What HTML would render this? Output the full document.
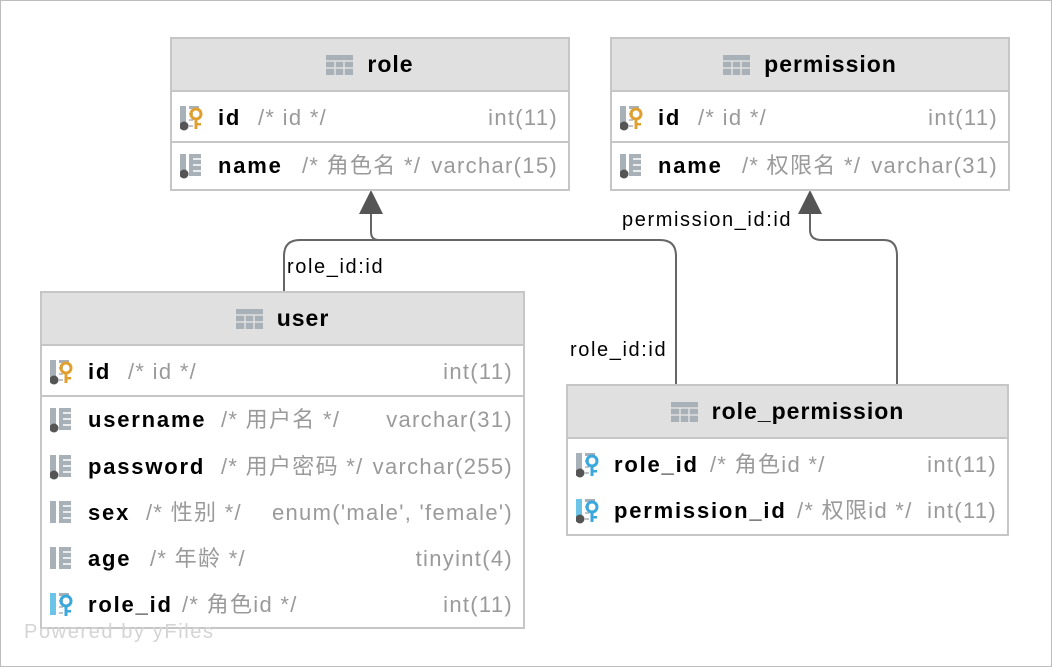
<!DOCTYPE html>
<html><head><meta charset="utf-8"><style>
body{margin:0;width:1052px;height:667px;position:relative;background:#fff;font-family:"Liberation Sans","Noto Sans CJK SC",sans-serif;overflow:hidden}
.frame{position:absolute;left:0;top:0;width:1050px;height:665px;border:1px solid #bdbdbd}
.t{position:absolute;border:2px solid #c6c6c6;background:#fff;box-sizing:border-box}
.h{position:absolute;left:0;right:0;top:0;background:#e0e0e0;border-bottom:2px solid #c6c6c6;box-sizing:border-box;text-align:center;font-weight:bold;font-size:23px;color:#000;letter-spacing:1px}
.h span{display:inline-flex;align-items:center;gap:14px}
.sep{position:absolute;left:0;right:0;height:2px;background:#c6c6c6}
.r{position:absolute;left:8px;right:10px;height:28px;line-height:28px;font-size:22px;white-space:nowrap;letter-spacing:1.3px}
.r .ic{position:absolute;left:0;top:2px}
.r b{position:absolute;left:38px;color:#000;letter-spacing:1.8px}
.r i{font-style:normal;color:#9a9a9a;position:absolute}
.r em{font-style:normal;color:#9a9a9a;position:absolute;right:0}
.lbl{position:absolute;font-size:20px;color:#000;white-space:nowrap;letter-spacing:1.6px}
</style></head><body>
<div class="frame"></div>
<svg width="1052" height="667" style="position:absolute;left:0;top:0">
<g fill="none" stroke="#666" stroke-width="2">
<path d="M284 292 V256 Q284 240 300 240 H660 Q676 240 676 256 V384"/>
<path d="M371 210 V232 Q371 240 379 240"/>
<path d="M810 210 V230 Q810 240 822 240 H884 Q897 240 897 256 V384"/>
</g>
<polygon points="371,190 359,214 383,214" fill="#555"/>
<polygon points="810,190 798,214 822,214" fill="#555"/>
<defs>
<g id="tbl"><rect x="0" y="0" width="27" height="20" fill="#a8b0b8"/><g stroke="#e0e0e0" stroke-width="1.5"><line x1="0" y1="6" x2="27" y2="6"/><line x1="0" y1="13" x2="27" y2="13"/><line x1="9" y1="6" x2="9" y2="20"/><line x1="18" y1="6" x2="18" y2="20"/></g></g>
<g id="col"><rect x="0" y="0" width="6" height="22" fill="#a8b0b8"/><rect x="9" y="0" width="12" height="22" fill="#a8b0b8"/><g stroke="#fff" stroke-width="1.5"><line x1="13" y1="5" x2="21" y2="5"/><line x1="13" y1="11" x2="21" y2="11"/><line x1="13" y1="17" x2="21" y2="17"/></g></g>
<g id="dot"><circle cx="4" cy="20" r="4.5" fill="#555"/></g>
<g id="key"><circle cx="16" cy="8" r="5" fill="none" stroke="currentColor" stroke-width="3"/><rect x="14.5" y="12" width="3" height="11" fill="currentColor"/><rect x="17" y="17" width="4" height="2.5" fill="currentColor"/></g>
<g id="kcol"><rect x="0" y="0" width="6" height="22" fill="currentColor"/><rect x="9" y="0" width="10" height="3" fill="#a8b0b8"/><g stroke="#a8b0b8" stroke-width="1.5"><line x1="9" y1="8" x2="13" y2="8"/><line x1="9" y1="14" x2="13" y2="14"/><line x1="9" y1="20" x2="13" y2="20"/></g></g>
</defs>
</svg>

<div class="t" style="left:170px;top:37px;width:400px;height:154px">
 <div class="h" style="height:53px;line-height:51px"><span><svg width="27" height="20"><use href="#tbl"/></svg>role</span></div>
 <div class="r" style="top:65px"><svg class="ic" width="30" height="26"><g color="#a8b0b8"><use href="#kcol"/></g><g color="#e0a030"><use href="#key"/></g><use href="#dot"/></svg><b>id</b><i style="left:78px">/* id */</i><em>int(11)</em></div>
 <div class="sep" style="top:102px"></div>
 <div class="r" style="top:113px"><svg class="ic" width="30" height="26"><use href="#col"/><use href="#dot"/></svg><b>name</b><i style="left:122px">/* 角色名 */</i><em>varchar(15)</em></div>
</div>

<div class="t" style="left:610px;top:37px;width:400px;height:154px">
 <div class="h" style="height:53px;line-height:51px"><span><svg width="27" height="20"><use href="#tbl"/></svg>permission</span></div>
 <div class="r" style="top:65px"><svg class="ic" width="30" height="26"><g color="#a8b0b8"><use href="#kcol"/></g><g color="#e0a030"><use href="#key"/></g><use href="#dot"/></svg><b>id</b><i style="left:78px">/* id */</i><em>int(11)</em></div>
 <div class="sep" style="top:102px"></div>
 <div class="r" style="top:113px"><svg class="ic" width="30" height="26"><use href="#col"/><use href="#dot"/></svg><b>name</b><i style="left:122px">/* 权限名 */</i><em>varchar(31)</em></div>
</div>

<div class="t" style="left:40px;top:291px;width:485px;height:338px">
 <div class="h" style="height:53px;line-height:51px"><span><svg width="27" height="20"><use href="#tbl"/></svg>user</span></div>
 <div class="r" style="top:65px"><svg class="ic" width="30" height="26"><g color="#a8b0b8"><use href="#kcol"/></g><g color="#e0a030"><use href="#key"/></g><use href="#dot"/></svg><b>id</b><i style="left:78px">/* id */</i><em>int(11)</em></div>
 <div class="sep" style="top:102px"></div>
 <div class="r" style="top:113px"><svg class="ic" width="30" height="26"><use href="#col"/><use href="#dot"/></svg><b>username</b><i style="left:171px">/* 用户名 */</i><em>varchar(31)</em></div>
 <div class="r" style="top:160px"><svg class="ic" width="30" height="26"><use href="#col"/><use href="#dot"/></svg><b>password</b><i style="left:171px">/* 用户密码 */</i><em>varchar(255)</em></div>
 <div class="r" style="top:206px"><svg class="ic" width="30" height="26"><use href="#col"/></svg><b>sex</b><i style="left:96px">/* 性别 */</i><em>enum('male', 'female')</em></div>
 <div class="r" style="top:252px"><svg class="ic" width="30" height="26"><use href="#col"/></svg><b>age</b><i style="left:100px">/* 年龄 */</i><em>tinyint(4)</em></div>
 <div class="r" style="top:298px"><svg class="ic" width="30" height="26"><g color="#6cc4e8"><use href="#kcol"/></g><g color="#3aa8dc"><use href="#key"/></g></svg><b>role_id</b><i style="left:132px">/* 角色id */</i><em>int(11)</em></div>
</div>

<div class="t" style="left:566px;top:384px;width:443px;height:152px">
 <div class="h" style="height:53px;line-height:51px"><span><svg width="27" height="20"><use href="#tbl"/></svg>role_permission</span></div>
 <div class="r" style="top:65px"><svg class="ic" width="30" height="26"><g color="#a8b0b8"><use href="#kcol"/></g><g color="#3aa8dc"><use href="#key"/></g><use href="#dot"/></svg><b>role_id</b><i style="left:134px">/* 角色id */</i><em>int(11)</em></div>
 <div class="r" style="top:111px"><svg class="ic" width="30" height="26"><g color="#6cc4e8"><use href="#kcol"/></g><g color="#3aa8dc"><use href="#key"/></g><use href="#dot"/></svg><b>permission_id</b><i style="left:221px">/* 权限id */</i><em>int(11)</em></div>
</div>

<div class="lbl" style="left:287px;top:256px">role_id:id</div>
<div class="lbl" style="left:570px;top:339px">role_id:id</div>
<div class="lbl" style="left:622px;top:209px">permission_id:id</div>
<div class="lbl" style="left:24px;top:621px;color:#d4d4d4">Powered by yFiles</div>
</body></html>
